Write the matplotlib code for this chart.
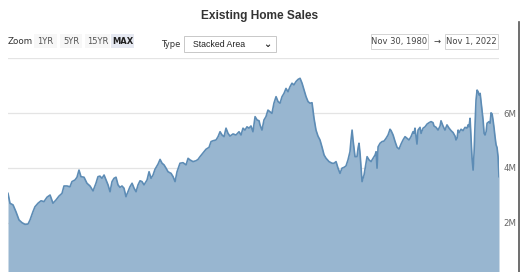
import matplotlib
matplotlib.use("Agg")
import matplotlib.pyplot as plt
from matplotlib.patches import Rectangle

# ---------------- data ----------------
years = [1980.92, 1981.09, 1981.35, 1981.60, 1981.86, 1982.12, 1982.37, 1982.63, 1982.80, 1983.05,
         1983.22, 1983.48, 1983.74, 1983.99, 1984.25, 1984.51, 1984.76, 1985.02, 1985.27, 1985.53,
         1985.70, 1985.96, 1986.21, 1986.38, 1986.64, 1986.81, 1986.98, 1987.15, 1987.41, 1987.66,
         1987.92, 1988.18, 1988.43, 1988.60, 1988.77, 1988.94, 1989.12, 1989.29, 1989.46, 1989.63,
         1989.80, 1989.97, 1990.14, 1990.31, 1990.48, 1990.65, 1990.82, 1990.99, 1991.16, 1991.33,
         1991.51, 1991.68, 1991.85, 1992.02, 1992.19, 1992.36, 1992.53, 1992.79, 1992.96, 1993.13,
         1993.30, 1993.47, 1993.73, 1993.90, 1994.07, 1994.24, 1994.41, 1994.58, 1994.84, 1995.01,
         1995.18, 1995.35, 1995.60, 1995.86, 1996.12, 1996.29, 1996.46, 1996.71, 1996.97, 1997.14,
         1997.31, 1997.57, 1997.82, 1998.08, 1998.25, 1998.42, 1998.68, 1998.85, 1999.02, 1999.19,
         1999.36, 1999.53, 1999.70, 1999.87, 2000.13, 2000.38, 2000.64, 2000.81, 2000.98, 2001.15,
         2001.32, 2001.49, 2001.66, 2001.83, 2002.01, 2002.18, 2002.35, 2002.43, 2002.60, 2002.77,
         2002.94, 2003.11, 2003.28, 2003.45, 2003.62, 2003.80, 2003.97, 2004.14, 2004.31, 2004.48,
         2004.65, 2004.82, 2004.99, 2005.16, 2005.33, 2005.50, 2005.68, 2005.85, 2006.02, 2006.19,
         2006.36, 2006.53, 2006.70, 2006.87, 2007.04, 2007.21, 2007.38, 2007.55, 2007.73, 2007.90,
         2008.07, 2008.32, 2008.58, 2008.75, 2008.92, 2009.09, 2009.26, 2009.43, 2009.60, 2009.77,
         2009.94, 2010.11, 2010.20, 2010.29, 2010.37, 2010.54, 2010.71, 2010.80, 2010.88, 2010.97,
         2011.05, 2011.14, 2011.31, 2011.48, 2011.57, 2011.74, 2011.91, 2012.08, 2012.25, 2012.34,
         2012.42, 2012.51, 2012.68, 2012.85, 2013.02, 2013.19, 2013.36, 2013.53, 2013.62, 2013.79,
         2013.96, 2014.13, 2014.30, 2014.47, 2014.64, 2014.81, 2014.98, 2015.15, 2015.32, 2015.49,
         2015.58, 2015.66, 2015.75, 2015.83, 2015.92, 2016.09, 2016.18, 2016.35, 2016.52, 2016.69,
         2016.86, 2017.03, 2017.20, 2017.28, 2017.46, 2017.63, 2017.80, 2017.88, 2018.05, 2018.22,
         2018.39, 2018.57, 2018.74, 2018.91, 2019.08, 2019.16, 2019.25, 2019.34, 2019.42, 2019.59,
         2019.76, 2019.93, 2020.10, 2020.19, 2020.27, 2020.36, 2020.44, 2020.53, 2020.62, 2020.70,
         2020.79, 2020.87, 2020.96, 2021.05, 2021.13, 2021.22, 2021.30, 2021.39, 2021.47, 2021.56,
         2021.64, 2021.73, 2021.81, 2021.98, 2022.07, 2022.15, 2022.24, 2022.32, 2022.41, 2022.49,
         2022.58, 2022.66, 2022.75, 2022.83]

sales_millions = [3.07, 2.71, 2.65, 2.40, 2.10, 2.00, 1.94, 1.95, 2.10, 2.40,
                  2.58, 2.71, 2.80, 2.77, 2.93, 3.01, 2.71, 2.83, 2.97, 3.07,
                  3.34, 3.34, 3.31, 3.50, 3.56, 3.66, 3.92, 3.68, 3.66, 3.44,
                  3.34, 3.16, 3.44, 3.68, 3.70, 3.62, 3.74, 3.56, 3.38, 3.13,
                  3.50, 3.62, 3.66, 3.38, 3.29, 3.34, 3.26, 2.95, 3.13, 3.31,
                  3.44, 3.26, 3.13, 3.38, 3.53, 3.50, 3.38, 3.56, 3.86, 3.62,
                  3.74, 3.95, 4.14, 4.31, 4.17, 4.11, 3.99, 3.86, 3.80, 3.68,
                  3.50, 3.86, 4.17, 4.19, 4.11, 4.35, 4.29, 4.23, 4.26, 4.31,
                  4.41, 4.55, 4.68, 4.75, 4.96, 4.99, 5.02, 5.14, 5.32, 5.20,
                  5.14, 5.45, 5.26, 5.16, 5.24, 5.20, 5.32, 5.20, 5.45, 5.38,
                  5.50, 5.45, 5.53, 5.32, 5.87, 5.75, 5.72, 5.57, 5.38, 5.75,
                  5.87, 6.11, 6.05, 5.99, 6.36, 6.60, 6.42, 6.36, 6.60, 6.72,
                  6.90, 6.78, 6.96, 7.09, 7.03, 7.15, 7.23, 7.27, 7.09, 6.84,
                  6.60, 6.42, 6.36, 6.38, 5.81, 5.38, 5.16, 5.02, 4.75, 4.47,
                  4.35, 4.23, 4.17, 4.17, 4.23, 3.99, 3.80, 3.99, 4.02, 4.07,
                  4.29, 4.59, 5.02, 5.38, 5.02, 4.41, 4.41, 4.72, 4.90, 4.53,
                  4.04, 3.50, 3.74, 4.17, 4.41, 4.29, 4.23, 4.35, 4.47, 4.59,
                  3.99, 4.77, 4.90, 4.96, 4.98, 5.08, 5.20, 5.41, 5.36, 5.20,
                  4.96, 4.75, 4.69, 4.87, 5.02, 5.14, 5.08, 5.02, 5.14, 5.32,
                  5.26, 5.45, 5.14, 4.87, 5.38, 5.48, 5.26, 5.45, 5.50, 5.60,
                  5.65, 5.69, 5.65, 5.53, 5.48, 5.38, 5.53, 5.72, 5.53, 5.38,
                  5.57, 5.45, 5.36, 5.29, 5.16, 5.02, 5.08, 5.38, 5.29, 5.41,
                  5.36, 5.48, 5.45, 5.57, 5.50, 5.81, 5.14, 4.35, 3.92, 4.53,
                  5.63, 6.48, 6.84, 6.78, 6.66, 6.72, 6.42, 6.11, 5.75, 5.26,
                  5.20, 5.32, 5.63, 5.69, 5.63, 6.01, 5.97, 5.75, 5.45, 5.14,
                  4.84, 4.75, 4.41, 3.68]

y_ticks = [0, 2, 4, 6, 8]
y_tick_labels = ["0", "2M", "4M", "6M", ""]

title = "Existing Home Sales"
zoom_buttons = ["1YR", "5YR", "15YR", "MAX"]
chart_type = "Stacked Area"
date_from = "Nov 30, 1980"
date_to = "Nov 1, 2022"

# ---------------- figure ----------------
W, H = 520, 272
fig = plt.figure(figsize=(W / 100, H / 100), dpi=100)
fig.patch.set_facecolor("white")


def fx(x):
    return x / W


def fy(y):
    return 1 - y / H


FONT = "DejaVu Sans"

# plot area: x 8..499 px, y 8M at 58.3 px, 0 at 277.5 px
ax = fig.add_axes([fx(8), fy(277.5), fx(499) - fx(8), fy(58.3) - fy(277.5)])
ax.set_facecolor("white")
ax.fill_between(years, sales_millions, 0, color="#98b6d0", lw=0, zorder=2)
ax.plot(years, sales_millions, color="#5d8cb5", lw=1.2, zorder=3)
ax.set_xlim(years[0], years[-1])
ax.set_ylim(0, 8)
ax.set_yticks(y_ticks)
ax.set_yticklabels(y_tick_labels)
ax.yaxis.tick_right()
ax.tick_params(axis="y", length=0, pad=3, labelsize=6.2, labelcolor="#666666")
for lbl in ax.get_yticklabels():
    lbl.set_family(FONT)
ax.set_xticks([])
ax.grid(axis="y", color="#e4e4e4", lw=0.9, zorder=1)
for s in ax.spines.values():
    s.set_visible(False)

# title
fig.text(fx(259.5), fy(15.5), title, ha="center", va="center",
         fontsize=8.6, fontweight="bold", color="#333333", family="Liberation Sans")

# zoom buttons
fig.text(fx(8), fy(42), "Zoom", ha="left", va="center", fontsize=6.3,
         color="#333333", family=FONT)
btn_spans = [(34, 57), (60, 82), (85, 110), (111, 134)]
for (x0, x1), lab in zip(btn_spans, zoom_buttons):
    is_active = lab == "MAX"
    fig.add_artist(Rectangle((fx(x0), fy(48)), fx(x1) - fx(x0), fy(34) - fy(48),
                             transform=fig.transFigure,
                             facecolor="#e6e9f2" if is_active else "#f7f7f7",
                             edgecolor="none"))
    fig.text(fx((x0 + x1) / 2), fy(41.5), lab, ha="center", va="center", fontsize=6.0,
             color="#222222" if is_active else "#555555",
             fontweight="bold" if is_active else "normal", family=FONT)

# type dropdown
fig.text(fx(180.5), fy(44.5), "Type", ha="right", va="center", fontsize=6.0,
         color="#333333", family=FONT)
fig.add_artist(Rectangle((fx(183.5), fy(52)), fx(276) - fx(183.5), fy(36.5) - fy(52),
                         transform=fig.transFigure, facecolor="white",
                         edgecolor="#c8c8c8", lw=0.7))
fig.text(fx(193), fy(44.5), chart_type, ha="left", va="center", fontsize=6.3,
         color="#222222", family="Liberation Sans")
fig.text(fx(267), fy(44), "\u2304", ha="center", va="center", fontsize=7,
         color="#222222", family=FONT, fontweight="bold")

# date range boxes
for (x0, x1), txt in zip([(370.5, 428.5), (445, 497.5)], [date_from, date_to]):
    fig.add_artist(Rectangle((fx(x0), fy(48.5)), fx(x1) - fx(x0), fy(34) - fy(48.5),
                             transform=fig.transFigure, facecolor="white",
                             edgecolor="#d4d4d4", lw=0.7))
    fig.text(fx((x0 + x1) / 2), fy(41.5), txt, ha="center", va="center", fontsize=6.0,
             color="#444444", family=FONT)
fig.text(fx(437.5), fy(41.5), "\u2192", ha="center", va="center", fontsize=6,
         color="#333333", family=FONT)

# right border of the screenshot
fig.add_artist(plt.Line2D([fx(519), fx(519)], [0, fy(22)], transform=fig.transFigure,
                          color="#555555", lw=1.2))

fig.savefig("out.png", dpi=100, facecolor="white")
